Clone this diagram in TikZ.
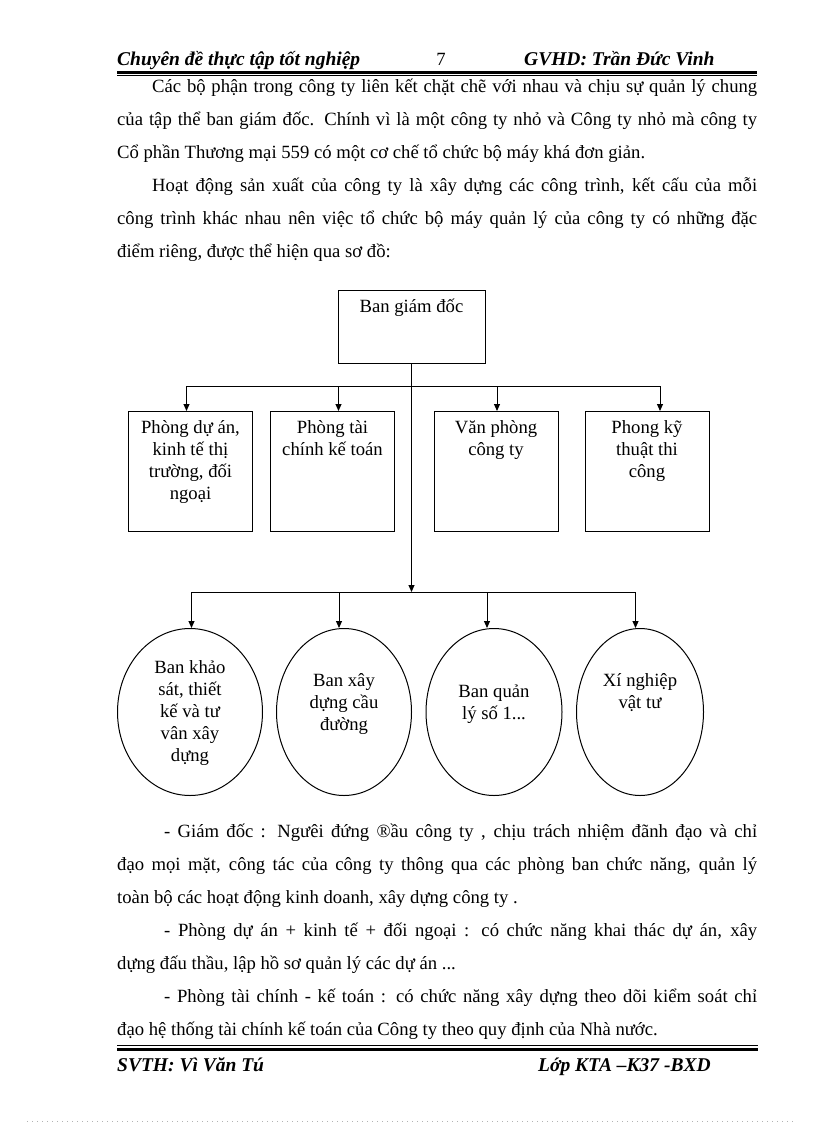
\documentclass[tikz,border=0pt]{standalone}
\usepackage{fontspec}
\setmainfont{Liberation Serif}
\usetikzlibrary{shapes.geometric, arrows.meta, positioning}
\newcommand{\bodyfont}{\fontsize{18.67pt}{22pt}\selectfont}
\newcommand{\jline}[2]{\hbox to #1{#2}}
\tikzset{
    dept/.style={rectangle, draw=black, line width=1pt, minimum width=124pt, minimum height=120pt, anchor=north, inner sep=0pt},
    unit/.style={ellipse, draw=black, line width=1pt, minimum height=167pt, anchor=north, inner sep=0pt},
    boxtext/.style={anchor=north, align=center, inner sep=0pt, font=\bodyfont, execute at begin node={\rule{0pt}{18pt}}},
    bodyline/.style={anchor=base west, inner sep=0pt, font=\bodyfont},
    headtext/.style={anchor=base west, inner sep=0pt, font=\fontsize{19.5pt}{22pt}\selectfont\bfseries\itshape},
    arrow/.style={line width=1pt,-{Triangle[length=7pt,width=6pt]}},
    link/.style={line width=1pt}
}
\begin{document}
\begin{tikzpicture}[x=1pt, y=-1pt]
\useasboundingbox (0,0) rectangle (816,1123);

% Page header
\node[headtext] (head) at (117,66) {Chuyên đề thực tập tốt nghiệp};
\node[bodyline, anchor=base] (pageno) at (441,66) {7};
\node[headtext] (gvhd) at (524,66) {GVHD: Trần Đức Vinh};
\coordinate (hl) at (117,72.5);
\coordinate (hr) at (757,72.5);
\draw[line width=3pt] (hl) -- (hr);
\draw[line width=1pt] ([yshift=-3.5pt]hl) -- ([yshift=-3.5pt]hr);

% Text above the chart
\node[bodyline] (p1a) at (152,92.5) {\jline{605pt}{Các bộ phận trong công ty liên kết chặt chẽ với nhau và chịu sự quản lý chung}};
\node[bodyline] (p1b) at (117,125.5) {\jline{640pt}{của tập thể ban giám đốc. Chính vì là một công ty nhỏ và Công ty nhỏ mà công ty}};
\node[bodyline] (p1c) at (117,159) {Cổ phần Thương mại 559 có một cơ chế tổ chức bộ máy khá đơn giản.};
\node[bodyline] (p2a) at (152,192) {\jline{605pt}{Hoạt động sản xuất của công ty là xây dựng các công trình, kết cấu của mỗi}};
\node[bodyline] (p2b) at (117,225) {\jline{640pt}{công trình khác nhau nên việc tổ chức bộ máy quản lý của công ty có những đặc}};
\node[bodyline] (p2c) at (117,258) {điểm riêng, được thể hiện qua sơ đồ:};

% Top: board of directors
\node[dept, minimum width=147pt, minimum height=73pt] (bgd) at (411.5,290) {};
\node[boxtext, below=4pt of bgd.north] (bgdtext) {Ban giám đốc};

% Row 1: departments
\node[dept] (pda) at (190.5,411) {};
\node[dept] (ptc) at (332.5,411) {};
\node[dept] (vp) at (496,411) {};
\node[dept] (pkt) at (647,411) {};
\node[boxtext, below=9pt of pda.north] (pdatext) {Phòng dự án,\\kinh tế thị\\trường, đối\\ngoại};
\node[boxtext, below=9pt of ptc.north] (ptctext) {Phòng tài\\chính kế toán};
\node[boxtext, below=9pt of vp.north] (vptext) {Văn phòng\\công ty};
\node[boxtext, below=9pt of pkt.north] (pkttext) {Phong kỹ\\thuật thi\\công};

% Row 2: units
\node[unit, minimum width=145pt] (bks) at (190,628) {};
\node[unit, minimum width=135pt] (bxd) at (344,628) {};
\node[unit, minimum width=136pt] (bql) at (494,628) {};
\node[unit, minimum width=127pt] (xnvt) at (640,628) {};
\node[boxtext, below=32pt of bks.north] (bkstext) {Ban khảo\\sát, thiết\\kế và tư\\vân xây\\dựng};
\node[boxtext, below=45pt of bxd.north] (bxdtext) {Ban xây\\dựng cầu\\đường};
\node[boxtext, below=57pt of bql.north] (bqltext) {Ban quản\\lý số 1...};
\node[boxtext, below=45pt of xnvt.north] (xnvttext) {Xí nghiệp\\vật tư};

% Connectors
\coordinate (busa) at (186.5,386);
\coordinate (busb) at (338.5,386);
\coordinate (busc) at (497,386);
\coordinate (busd) at (660,386);
\coordinate (busm) at (191.5,592);
\coordinate (busn) at (339,592);
\coordinate (buso) at (487,592);
\coordinate (busp) at (635.5,592);
\draw[link] (busa) -- (busd);
\draw[link] (busm) -- (busp);
\draw[arrow] (bgd.south) -- (bgd.south |- busm);
\draw[arrow] (busa) -- (busa |- pda.north);
\draw[arrow] (busb) -- (busb |- ptc.north);
\draw[arrow] (busc) -- (busc |- vp.north);
\draw[arrow] (busd) -- (busd |- pkt.north);
\draw[arrow] (busm) -- (busm |- bks.north);
\draw[arrow] (busn) -- (busn |- bxd.north);
\draw[arrow] (buso) -- (buso |- bql.north);
\draw[arrow] (busp) -- (busp |- xnvt.north);

% Text below the chart
\node[bodyline] (d1a) at (164,837) {\jline{593pt}{- Giám đốc : Ngưêi đứng ®ầu công ty , chịu trách nhiệm đãnh đạo và chỉ}};
\node[bodyline] (d1b) at (117,870) {\jline{640pt}{đạo mọi mặt, công tác của công ty thông qua các phòng ban chức năng, quản lý}};
\node[bodyline] (d1c) at (117,903) {toàn bộ các hoạt động kinh doanh, xây dựng công ty .};
\node[bodyline] (d2a) at (164,936) {\jline{593pt}{- Phòng dự án + kinh tế + đối ngoại : có chức năng khai thác dự án, xây}};
\node[bodyline] (d2b) at (117,969) {dựng đấu thầu, lập hồ sơ quản lý các dự án ...};
\node[bodyline] (d3a) at (164,1002) {\jline{593pt}{- Phòng tài chính - kế toán : có chức năng xây dựng theo dõi kiểm soát chỉ}};
\node[bodyline] (d3b) at (117,1035) {đạo hệ thống tài chính kế toán của Công ty theo quy định của Nhà nước.};

% Page footer
\coordinate (fl) at (117,1045);
\coordinate (fr) at (758,1045);
\draw[line width=1pt] (fl) -- (fr);
\draw[line width=3pt] ([yshift=-4pt]fl) -- ([yshift=-4pt]fr);
\node[headtext] (svth) at (117,1071) {SVTH: Vì Văn Tú};
\node[headtext] (lop) at (538,1071) {Lớp KTA –K37 -BXD};
\coordinate (dl) at (27,1121);
\coordinate (dr) at (793,1121);
\draw[black!30, line width=0.6pt, dash pattern=on 1pt off 4pt] (dl) -- (dr);
\end{tikzpicture}
\end{document}
